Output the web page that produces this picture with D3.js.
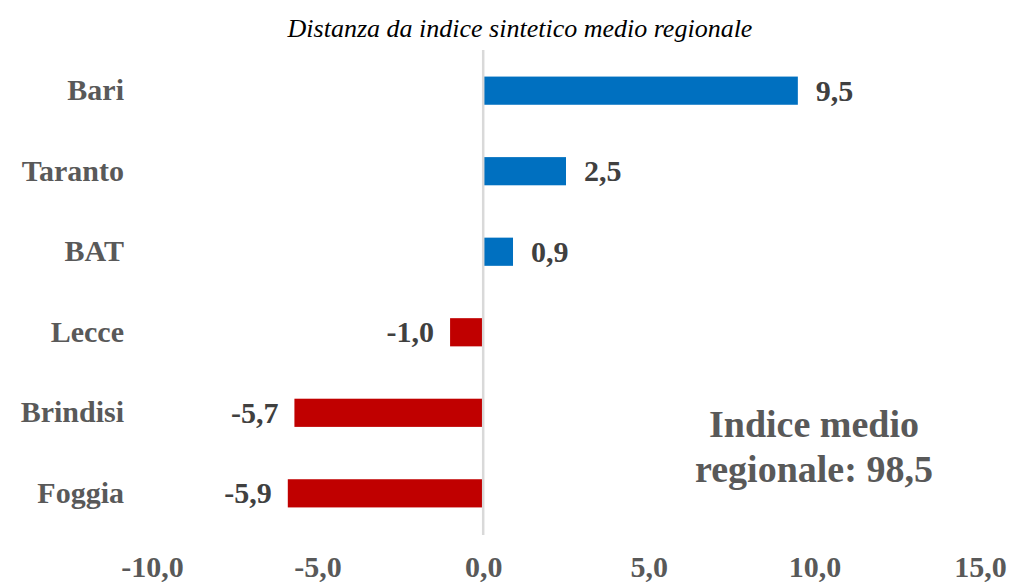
<!DOCTYPE html>
<html>
<head>
    <meta charset="utf-8">
    <title>Distanza da indice sintetico medio regionale</title>
    <style>
        html, body { margin: 0px; padding: 0px; background: #fff; }
        text { font-family: "Liberation Serif", "DejaVu Serif", serif; }
    </style>
    <script src="https://d3js.org/d3.v7.min.js"></script>
</head>
<body>
<script>
    var province = ["Bari", "Taranto", "BAT", "Lecce", "Brindisi", "Foggia"];
    var distanza = [9.5, 2.5, 0.9, -1.0, -5.7, -5.9];
    var xTicks = [-10, -5, 0, 5, 10, 15];
    var titolo = "Distanza da indice sintetico medio regionale";
    var nota = ["Indice medio", "regionale: 98,5"];

    var width = 1012, height = 586;
    var fmt = function(v) { return d3.format(".1f")(v).replace(".", ",").replace("−", "-"); };

    var svg = d3.select("body").append("svg")
        .attr("width", width)
        .attr("height", height);

    var x = d3.scaleLinear().domain([-10, 15]).range([152, 980]);
    var y = d3.scaleBand().domain(province).range([50, 534]).paddingInner(0.65).paddingOuter(0.33);

    // title
    svg.append("text")
        .attr("x", 520).attr("y", 37)
        .attr("text-anchor", "middle")
        .style("font-style", "italic")
        .style("font-size", "26px")
        .attr("fill", "#000")
        .text(titolo);

    // bars
    svg.selectAll("rect.bar").data(distanza)
        .enter().append("rect")
        .attr("class", "bar")
        .attr("x", function(d) { return Math.min(x(0), x(d)); })
        .attr("y", function(d, i) { return y(province[i]); })
        .attr("width", function(d) { return Math.abs(x(d) - x(0)); })
        .attr("height", y.bandwidth())
        .attr("fill", function(d) { return d >= 0 ? "#0070C0" : "#C00000"; });

    // zero line
    svg.append("line")
        .attr("x1", x(0)).attr("x2", x(0))
        .attr("y1", 50).attr("y2", 535)
        .attr("stroke", "#d9d9d9")
        .attr("stroke-width", 2.5);

    // value labels
    svg.selectAll("text.val").data(distanza)
        .enter().append("text")
        .attr("class", "val")
        .attr("x", function(d) { return d >= 0 ? x(d) + 18 : x(d) - 16; })
        .attr("y", function(d, i) { return y(province[i]) + y.bandwidth() / 2 + 10; })
        .attr("text-anchor", function(d) { return d >= 0 ? "start" : "end"; })
        .style("font-size", "30px")
        .style("font-weight", "bold")
        .attr("fill", "#404040")
        .text(function(d) { return fmt(d); });

    // category axis
    var yAxis = svg.append("g")
        .attr("transform", "translate(124,0)")
        .call(d3.axisLeft(y).tickSize(0).tickPadding(0));
    yAxis.select(".domain").remove();
    yAxis.selectAll("text")
        .attr("dy", "0.32em")
        .style("font-size", "30px")
        .style("font-weight", "bold")
        .attr("fill", "#595959");

    // x axis
    var xAxis = svg.append("g")
        .attr("transform", "translate(0,556)")
        .call(d3.axisBottom(x).tickValues(xTicks).tickSize(0).tickPadding(0).tickFormat(fmt));
    xAxis.select(".domain").remove();
    xAxis.selectAll("text")
        .attr("dy", "0.71em")
        .style("font-size", "30px")
        .style("font-weight", "bold")
        .attr("fill", "#595959");

    // annotation
    var ann = svg.append("text")
        .attr("x", 814)
        .attr("text-anchor", "middle")
        .style("font-size", "38px")
        .style("font-weight", "bold")
        .attr("fill", "#595959");
    ann.selectAll("tspan").data(nota)
        .enter().append("tspan")
        .attr("x", 814)
        .attr("y", function(d, i) { return 437 + i * 45; })
        .text(function(d) { return d; });
</script>
</body>
</html>
